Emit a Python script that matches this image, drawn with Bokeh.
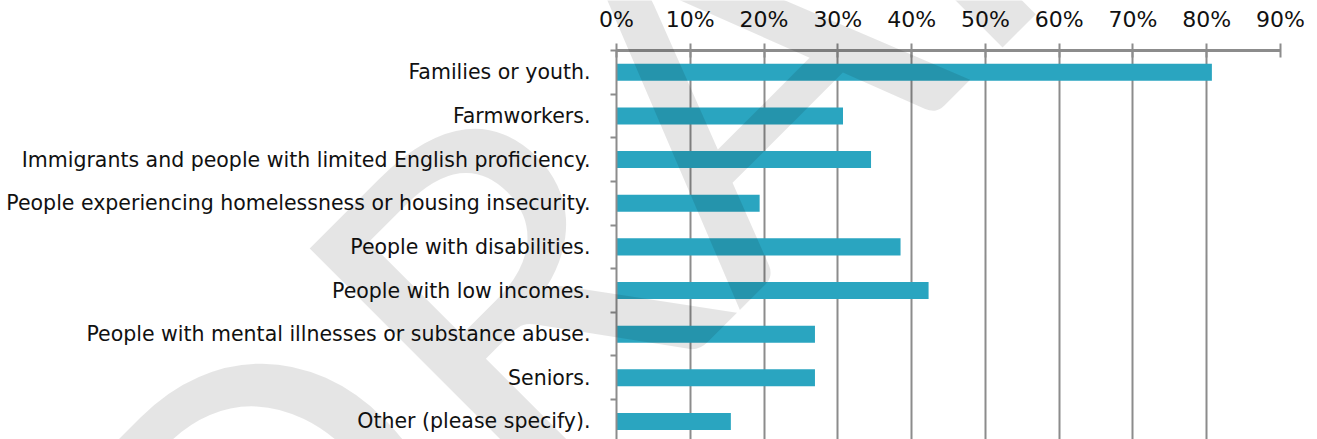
from bokeh.plotting import figure
from bokeh.models import Range1d, FixedTicker, LinearAxis, Label, ColumnDataSource
from bokeh.embed import file_html
from bokeh.resources import INLINE

categories = [
    "Families or youth.",
    "Farmworkers.",
    "Immigrants and people with limited English proficiency.",
    "People experiencing homelessness or housing insecurity.",
    "People with disabilities.",
    "People with low incomes.",
    "People with mental illnesses or substance abuse.",
    "Seniors.",
    "Other (please specify).",
]
values = [80.7, 30.7, 34.5, 19.4, 38.5, 42.3, 26.9, 26.9, 15.5]
x_ticks = [0, 10, 20, 30, 40, 50, 60, 70, 80, 90]
x_tick_labels = ["0%", "10%", "20%", "30%", "40%", "50%", "60%", "70%", "80%", "90%"]
watermark_text = "DRAFT"

FONT = "DejaVu Sans"
GRID = "#8c8c8c"
BAR = "#2aa5c0"
W, H = 1317, 439

positions = list(range(len(categories)))
src = ColumnDataSource(dict(y=positions, v=values, cat=categories))

p = figure(width=W, height=H, output_backend="svg", toolbar_location=None,
           x_range=Range1d(0, 90), y_range=Range1d(8.414, -0.5),
           x_axis_location=None, y_axis_location=None,
           min_border_left=616, min_border_right=37, min_border_top=50,
           min_border_bottom=0)
p.outline_line_color = None
p.background_fill_color = "white"
p.border_fill_color = "white"

p.hbar(y="y", right="v", left=0, height=0.39, source=src, fill_color=BAR,
       line_color=None)

# top axis
xa = LinearAxis(ticker=FixedTicker(ticks=x_ticks, minor_ticks=[]))
xa.major_label_overrides = {t: lab for t, lab in zip(x_ticks, x_tick_labels)}
xa.axis_line_color = GRID
xa.axis_line_width = 3
xa.major_tick_line_color = GRID
xa.major_tick_line_width = 2
xa.major_tick_out = 7
xa.major_tick_in = 7
xa.minor_tick_line_color = None
xa.major_label_text_font = FONT
xa.major_label_text_font_size = "22px"
xa.major_label_text_color = "#111111"
xa.major_label_standoff = 12
p.add_layout(xa, "above")

# left axis
ya = LinearAxis(ticker=FixedTicker(ticks=positions,
                                   minor_ticks=[i - 0.5 for i in positions]))
ya.major_label_overrides = {i: c for i, c in zip(positions, categories)}
ya.axis_line_color = GRID
ya.axis_line_width = 2
ya.major_tick_line_color = None
ya.major_tick_out = 0
ya.major_tick_in = 0
ya.minor_tick_line_color = GRID
ya.minor_tick_line_width = 2
ya.minor_tick_out = 6
ya.minor_tick_in = 0
ya.major_label_text_font = FONT
ya.major_label_text_font_size = "20.5px"
ya.major_label_text_color = "#111111"
ya.major_label_standoff = 20
p.add_layout(ya, "left")

p.xgrid.ticker = FixedTicker(ticks=x_ticks)
p.xgrid.grid_line_color = GRID
p.xgrid.grid_line_width = 2
p.ygrid.grid_line_color = None
p.grid.level = "underlay"

# transparent overlay figure (separate root) carrying the DRAFT watermark
w = figure(width=W, height=H, output_backend="svg", toolbar_location=None,
           x_range=Range1d(0, W), y_range=Range1d(0, H),
           x_axis_location=None, y_axis_location=None, min_border=0)
w.outline_line_color = None
w.background_fill_alpha = 0
w.border_fill_alpha = 0
w.xgrid.visible = False
w.ygrid.visible = False
w.add_layout(Label(x=682, y=H - 101, x_units="screen", y_units="screen",
                   text=watermark_text, angle=0.785, angle_units="rad",
                   text_font="Lato", text_font_size="485px",
                   text_color="black", text_alpha=0.1,
                   text_align="center", text_baseline="middle"))
w.styles = {"margin-top": f"-{H}px"}

open("out.html", "w").write(file_html([p, w], INLINE))
